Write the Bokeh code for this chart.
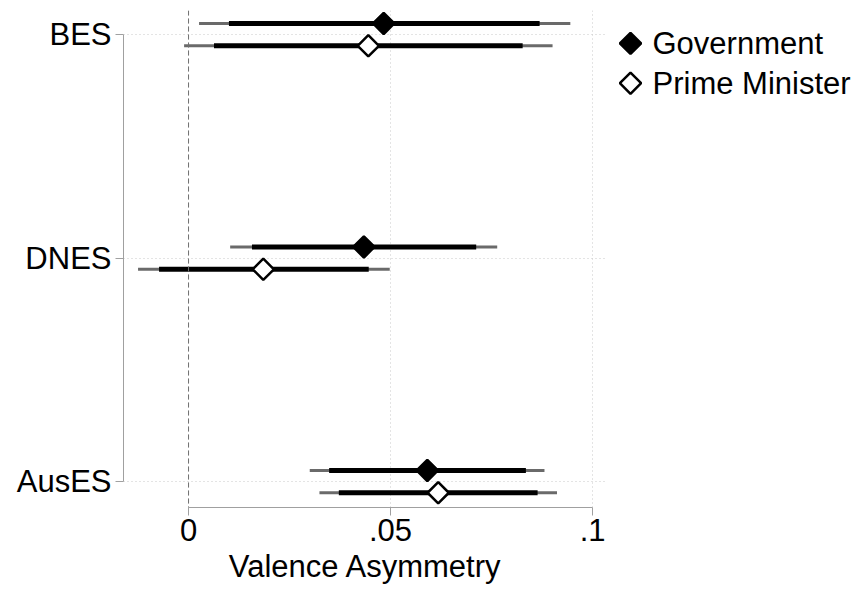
import numpy as np
from bokeh.plotting import figure
from bokeh.layouts import row
from bokeh.core.properties import value
from bokeh.models import (Range1d, FixedTicker, CustomJSTickFormatter, Span,
                          ColumnDataSource)
from bokeh.embed import file_html
from bokeh.resources import INLINE

# ---- data ----
studies = ["BES", "DNES", "AusES"]
series = ["Government", "Prime Minister"]
series_fill = ["black", "white"]

gov_est = [0.0483, 0.0434, 0.0591]
gov_lo90 = [0.0100, 0.0157, 0.0348]
gov_hi90 = [0.0869, 0.0712, 0.0835]
gov_lo95 = [0.0026, 0.0103, 0.0300]
gov_hi95 = [0.0945, 0.0764, 0.0881]

pm_est = [0.0445, 0.0185, 0.0618]
pm_lo90 = [0.0063, -0.0073, 0.0372]
pm_hi90 = [0.0827, 0.0446, 0.0864]
pm_lo95 = [-0.0011, -0.0125, 0.0324]
pm_hi95 = [0.0901, 0.0498, 0.0912]

x_ticks = [0, 0.05, 0.1]

FONT = "Liberation Sans"
FS = "31px"
H = 586
B_TOP = 10
B_BOT = 77

pos = np.arange(len(studies), 0, -1).astype(float)  # BES top
off = 0.05

p = figure(width=607, height=H, output_backend="svg", toolbar_location=None,
           x_range=Range1d(-0.0161, 0.1037), y_range=Range1d(0.884, 3.108),
           min_border_left=123, min_border_right=0, min_border_top=B_TOP,
           min_border_bottom=B_BOT)
p.outline_line_color = None
p.background_fill_color = "white"

# grids
p.xgrid.ticker = FixedTicker(ticks=x_ticks)
p.ygrid.ticker = FixedTicker(ticks=list(pos))
for g in (p.xgrid, p.ygrid):
    g.grid_line_color = "#c8c8c8"
    g.grid_line_dash = "1 3"
    g.grid_line_width = 1

# zero line
p.add_layout(Span(location=0, dimension="height", line_color="#707070",
                  line_dash="5 3", line_width=1))

MARKER = dict(marker="square", size=15, angle=np.pi / 4, line_color="black",
              line_width=2.5)

def draw(est, lo90, hi90, lo95, hi95, y, fill):
    src = ColumnDataSource(dict(y=y, est=est, lo90=lo90, hi90=hi90,
                                lo95=lo95, hi95=hi95))
    p.segment(x0="lo95", x1="hi95", y0="y", y1="y", source=src,
              line_color="#6a6a6a", line_width=3)
    p.segment(x0="lo90", x1="hi90", y0="y", y1="y", source=src,
              line_color="black", line_width=5)
    p.scatter(x="est", y="y", source=src, fill_color=fill, **MARKER)

draw(gov_est, gov_lo90, gov_hi90, gov_lo95, gov_hi95, pos + off, series_fill[0])
draw(pm_est, pm_lo90, pm_hi90, pm_lo95, pm_hi95, pos - off, series_fill[1])

# axes
xa = p.xaxis[0]
xa.ticker = FixedTicker(ticks=x_ticks)
xa.formatter = CustomJSTickFormatter(
    code="return tick == 0 ? '0' : String(Number(tick.toFixed(4))).replace(/^0/, '');")
xa.bounds = (x_ticks[0], x_ticks[-1])
xa.axis_label = "Valence Asymmetry"
ya = p.yaxis[0]
ya.ticker = FixedTicker(ticks=list(pos))
ya.major_label_overrides = {float(v): s for v, s in zip(pos, studies)}
ya.bounds = (float(pos.min()), float(pos.max()))

for ax in (xa, ya):
    ax.axis_line_color = "#a0a0a0"
    ax.major_tick_line_color = "#a0a0a0"
    ax.minor_tick_line_color = None
    ax.major_tick_out = 8
    ax.major_tick_in = 0
    ax.major_label_text_font = FONT
    ax.major_label_text_font_size = FS
    ax.major_label_text_color = "black"
    ax.axis_label_text_font = FONT
    ax.axis_label_text_font_size = FS
    ax.axis_label_text_font_style = "normal"
    ax.axis_label_text_color = "black"
ya.major_label_standoff = 4
xa.major_label_standoff = 3
xa.axis_label_standoff = 5

# ---- legend panel (page-pixel-like coordinates, y downward) ----
# the row aligns this panel's frame with the main frame (B_TOP .. H-B_BOT)
LW = 248
lg = figure(width=LW, height=H, output_backend="svg", toolbar_location=None,
            x_range=Range1d(0, LW), y_range=Range1d(H - B_BOT, B_TOP),
            x_axis_type=None, y_axis_type=None, title=None,
            min_border_left=0, min_border_right=0, min_border_top=0,
            min_border_bottom=0)
lg.outline_line_color = None
row_y = [43 + 40 * i for i in range(len(series))]
lsrc = ColumnDataSource(dict(x=[23] * len(series), tx=[45] * len(series),
                             y=row_y, label=series, fill=series_fill))
lg.scatter(x="x", y="y", source=lsrc, fill_color="fill", **MARKER)
lg.text(x="tx", y="y", text="label", source=lsrc, text_font=value(FONT),
        text_font_size=value(FS), text_baseline="middle", text_align="left",
        text_color="black")

open("out.html", "w").write(file_html(row(p, lg, spacing=0), INLINE))
